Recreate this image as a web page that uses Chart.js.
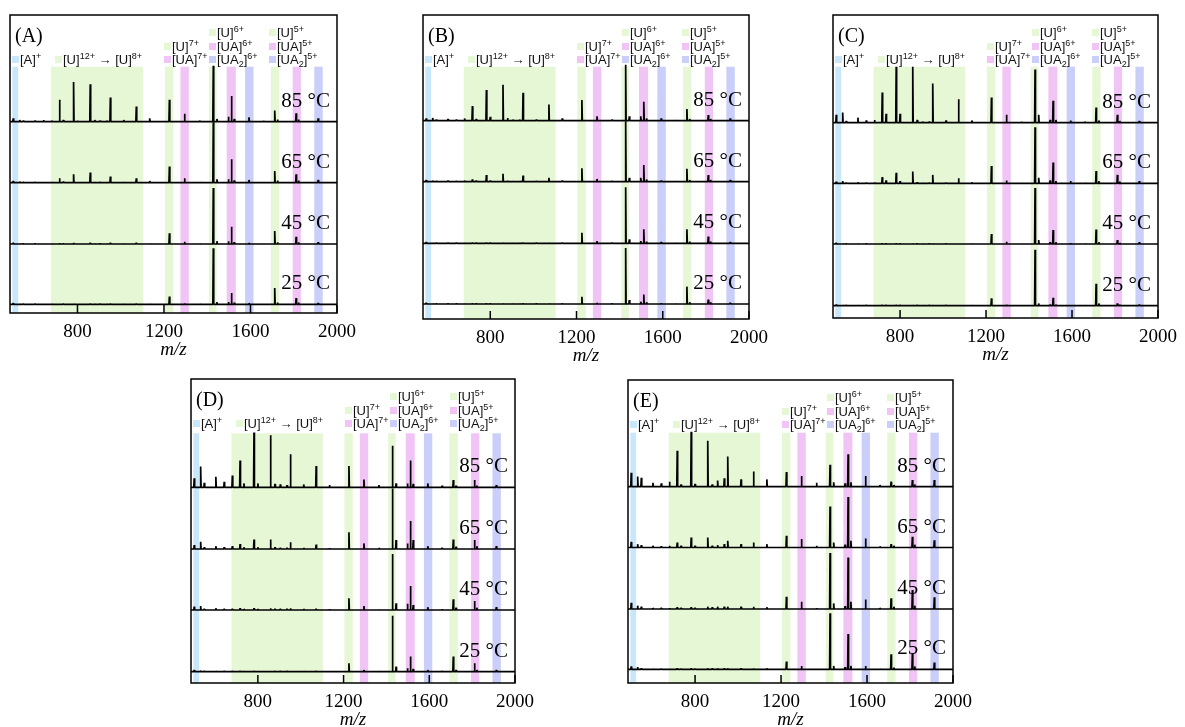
<!DOCTYPE html>
<html>
<head>
<meta charset="utf-8">
<title>Native MS of U/A complexes vs temperature</title>
<script src="https://cdn.jsdelivr.net/npm/chart.js"></script>
<style>
  body { margin: 0; background: #fff; width: 1185px; height: 727px; position: relative; overflow: hidden;
         font-family: 'Liberation Sans', Arial, sans-serif; color: #000; }
  .panel { position: absolute; }
  .panel canvas { position: absolute; left: 0; top: 0; }
  .tag { position: absolute; font: 20px 'Liberation Serif', serif; line-height: 1; }
  .temp { position: absolute; font: 21px 'Liberation Serif', serif; line-height: 1; text-align: right; white-space: nowrap; }
  .leg { position: absolute; font-size: 13px; line-height: 1; white-space: nowrap; color: #111; }
  .leg sup { font-size: 9px; position: relative; top: -5px; vertical-align: baseline; line-height: 0; }
  .leg sub { font-size: 9px; position: relative; top: 3px; vertical-align: baseline; line-height: 0; }
  .sq { position: absolute; width: 7px; height: 7px; }
</style>
</head>
<body>
<script>
  // peak positions (m/z) shared by all spectra
  const mz = [503, 533, 550, 604, 643, 681, 717, 735, 782, 800, 859, 880, 905, 936, 952, 1014, 1072, 1134,
              1225, 1295, 1365, 1428, 1445, 1498, 1512, 1525, 1593, 1660, 1712, 1725, 1811, 1822, 1913];
  const tickValues = [800, 1200, 1600, 2000];
  const temps = ['85 °C', '65 °C', '45 °C', '25 °C'];

  // relative intensities (% of the base peak), one array per panel and temperature
  const A85 = [6, 3, 2, 2, 3, 2, 39, 3, 71, 2, 67, 3, 2, 2, 43, 3, 27, 6, 39, 14, 2, 100, 5, 9, 46, 5, 8, 2, 20, 4, 15, 4, 6];
  const A65 = [3, 2, 1, 1, 1, 1, 8, 2, 15, 1, 18, 1, 1, 1, 11, 1, 8, 3, 29, 8, 1, 108, 6, 6, 42, 4, 5, 1, 21, 4, 15, 4, 5];
  const A45 = [2, 1, 1, 1, 1, 1, 2, 1, 2, 1, 2, 1, 1, 1, 2, 1, 2, 1, 19, 4, 1, 100, 5, 5, 31, 3, 2, 1, 23, 3, 13, 3, 3];
  const A25 = [2, 1, 1, 1, 1, 1, 1, 1, 1, 1, 1, 1, 1, 1, 1, 1, 1, 1, 14, 2, 1, 100, 4, 4, 20, 3, 2, 1, 29, 3, 11, 3, 2];
  const B85 = [4, 5, 2, 3, 2, 4, 26, 3, 55, 7, 64, 5, 2, 2, 50, 2, 29, 4, 37, 8, 2, 100, 8, 8, 34, 4, 4, 1, 21, 3, 10, 3, 4];
  const B65 = [3, 2, 1, 2, 1, 2, 4, 2, 12, 2, 14, 2, 1, 1, 11, 1, 7, 2, 24, 5, 1, 108, 7, 7, 30, 4, 2, 1, 23, 3, 12, 3, 3];
  const B45 = [2, 1, 1, 1, 1, 1, 1, 1, 1, 1, 1, 1, 1, 1, 1, 1, 1, 1, 19, 4, 1, 100, 7, 4, 25, 3, 2, 1, 25, 3, 12, 3, 2];
  const B25 = [2, 1, 1, 1, 1, 1, 1, 1, 1, 1, 1, 1, 1, 1, 1, 1, 1, 1, 13, 2, 1, 100, 7, 4, 17, 3, 1, 1, 31, 3, 8, 3, 2];
  const C85 = [14, 18, 3, 9, 4, 5, 54, 16, 100, 16, 100, 5, 2, 2, 70, 4, 42, 4, 45, 14, 2, 95, 14, 5, 39, 5, 4, 2, 27, 4, 14, 3, 3];
  const C65 = [3, 4, 1, 2, 1, 2, 11, 5, 19, 4, 21, 2, 1, 1, 15, 1, 9, 2, 31, 5, 1, 100, 10, 5, 37, 4, 4, 1, 22, 4, 15, 3, 4];
  const C45 = [2, 1, 1, 1, 1, 1, 1, 1, 1, 1, 1, 1, 1, 1, 1, 1, 1, 1, 18, 4, 1, 100, 7, 3, 25, 3, 2, 1, 26, 3, 7, 2, 3];
  const C25 = [2, 1, 1, 1, 1, 1, 1, 1, 1, 1, 1, 1, 1, 1, 1, 1, 1, 1, 13, 2, 1, 100, 4, 2, 14, 2, 1, 1, 39, 4, 4, 2, 2];
  const D85 = [16, 37, 8, 19, 10, 21, 48, 7, 98, 7, 93, 6, 5, 4, 59, 5, 38, 4, 38, 14, 4, 74, 7, 7, 48, 6, 7, 3, 13, 3, 13, 3, 4];
  const D65 = [7, 13, 3, 5, 3, 5, 9, 3, 17, 3, 17, 3, 2, 2, 12, 2, 8, 2, 30, 10, 2, 108, 16, 10, 50, 16, 5, 2, 17, 4, 16, 5, 5];
  const D45 = [6, 7, 2, 3, 2, 2, 3, 2, 3, 2, 3, 2, 2, 2, 3, 2, 2, 2, 21, 7, 1, 100, 12, 11, 43, 9, 5, 1, 19, 4, 16, 4, 5];
  const D25 = [3, 2, 1, 1, 1, 1, 1, 1, 1, 1, 1, 1, 1, 1, 1, 1, 1, 1, 15, 3, 1, 100, 9, 6, 27, 5, 3, 1, 27, 3, 15, 3, 3];
  const E85 = [25, 18, 16, 7, 6, 9, 64, 4, 98, 5, 82, 4, 11, 15, 54, 13, 27, 13, 26, 19, 7, 39, 8, 6, 58, 8, 19, 3, 9, 3, 12, 4, 12];
  const E65 = [10, 6, 4, 3, 2, 3, 9, 3, 18, 3, 18, 3, 4, 6, 12, 6, 9, 6, 21, 15, 3, 73, 9, 5, 90, 12, 16, 2, 6, 3, 19, 5, 13];
  const E45 = [11, 6, 4, 2, 2, 2, 3, 2, 3, 2, 4, 3, 4, 4, 4, 4, 4, 3, 22, 13, 2, 100, 10, 5, 92, 13, 17, 2, 19, 4, 34, 6, 21];
  const E25 = [5, 4, 2, 1, 1, 1, 2, 1, 2, 1, 2, 2, 2, 2, 2, 2, 2, 2, 14, 6, 1, 100, 6, 4, 63, 6, 6, 1, 27, 3, 29, 5, 12];

  // highlighted m/z windows
  const bandLo = [499, 677, 1204, 1276, 1408, 1490, 1575, 1694, 1795, 1895];
  const bandHi = [526, 1103, 1243, 1315, 1443, 1532, 1614, 1733, 1833, 1934];
  const bandKind = ['a', 'u', 'u', 'ua', 'u', 'ua', 'ua2', 'u', 'ua', 'ua2'];
  const kindColor = { a: '#c8e7fb', u: '#e6f7d6', ua: '#f1c4f6', ua2: '#cacff9' };

  const legendItems = [
    { html: '[A]<sup>+</sup>', kind: 'a', x: 2, row: 2 },
    { html: '[U]<sup>12+</sup> → [U]<sup>8+</sup>', kind: 'u', x: 45, row: 2 },
    { html: '[U]<sup>7+</sup>', kind: 'u', x: 154, row: 1 },
    { html: '[UA]<sup>7+</sup>', kind: 'ua', x: 154, row: 2 },
    { html: '[U]<sup>6+</sup>', kind: 'u', x: 199, row: 0 },
    { html: '[UA]<sup>6+</sup>', kind: 'ua', x: 199, row: 1 },
    { html: '[UA<sub>2</sub>]<sup>6+</sup>', kind: 'ua2', x: 199, row: 2 },
    { html: '[U]<sup>5+</sup>', kind: 'u', x: 259, row: 0 },
    { html: '[UA]<sup>5+</sup>', kind: 'ua', x: 259, row: 1 },
    { html: '[UA<sub>2</sub>]<sup>5+</sup>', kind: 'ua2', x: 259, row: 2 }
  ];
  const rowY = [17, 31, 44.5];

  const panels = [
    { tag: '(A)', left: 10, right: 337, top: 15, bottom: 313, base: [121.7, 182.7, 244, 304.3], bandTop: 66.7, traces: [A85, A65, A45, A25] },
    { tag: '(B)', left: 423, right: 749, top: 15, bottom: 319, base: [120.7, 181.7, 243.3, 304], bandTop: 66.7, traces: [B85, B65, B45, B25] },
    { tag: '(C)', left: 833, right: 1158, top: 15, bottom: 318, base: [122.7, 183.3, 244, 305.7], bandTop: 66.7, traces: [C85, C65, C45, C25] },
    { tag: '(D)', left: 191, right: 515, top: 379, bottom: 683, base: [487.3, 549, 610, 671.7], bandTop: 433.3, traces: [D85, D65, D45, D25] },
    { tag: '(E)', left: 628, right: 953, top: 380, bottom: 683, base: [486.7, 547.5, 609, 669.3], bandTop: 432.7, traces: [E85, E65, E45, E25] }
  ];

  const X_MIN = 488, X_MAX = 2000;
  const PX_PER_PCT = 0.56;   // 100 % peak = 56 px
  const PADX = 30, PADY = 4, AXIS_H = 48;

  function traceData(inten, y0) {
    const pts = [{ x: X_MIN, y: y0 }];
    mz.forEach((m, i) => {
      pts.push({ x: m - 2, y: y0 }, { x: m, y: y0 + inten[i] * PX_PER_PCT }, { x: m + 2, y: y0 });
    });
    pts.push({ x: X_MAX, y: y0 });
    return pts;
  }

  const bandPlugin = {
    id: 'bands',
    beforeDatasetsDraw(chart, args, opts) {
      const { ctx, chartArea: a, scales: { x, y } } = chart;
      const yTop = y.getPixelForValue(opts.top);
      ctx.save();
      bandLo.forEach((lo, i) => {
        const x0 = x.getPixelForValue(lo), x1 = x.getPixelForValue(bandHi[i]);
        ctx.fillStyle = kindColor[bandKind[i]];
        ctx.fillRect(x0, yTop, x1 - x0, a.bottom - yTop);
      });
      ctx.restore();
    }
  };

  const framePlugin = {
    id: 'frame',
    afterDraw(chart) {
      const { ctx, chartArea: a, scales: { x } } = chart;
      ctx.save();
      ctx.strokeStyle = '#000';
      ctx.lineWidth = 1.5;
      ctx.strokeRect(a.left, a.top, a.right - a.left, a.bottom - a.top);
      ctx.beginPath();
      x.ticks.forEach(t => {
        const px = x.getPixelForValue(t.value);
        ctx.moveTo(px, a.bottom);
        ctx.lineTo(px, a.bottom - 8);
      });
      ctx.stroke();
      ctx.restore();
    }
  };

  panels.forEach(p => {
    const w = p.right - p.left, h = p.bottom - p.top;
    const div = document.createElement('div');
    div.className = 'panel';
    div.style.left = (p.left - PADX) + 'px';
    div.style.top = (p.top - PADY) + 'px';
    document.body.appendChild(div);

    const canvas = document.createElement('canvas');
    canvas.width = w + 2 * PADX;
    canvas.height = h + PADY + AXIS_H;
    canvas.style.width = canvas.width + 'px';
    canvas.style.height = canvas.height + 'px';
    div.appendChild(canvas);

    new Chart(canvas, {
      type: 'line',
      data: {
        datasets: p.traces.map((tr, k) => ({
          label: temps[k],
          data: traceData(tr, p.bottom - p.base[k]),
          borderColor: '#000',
          borderWidth: 1.7,
          borderJoinStyle: 'bevel',
          pointRadius: 0,
          tension: 0,
          fill: false
        }))
      },
      options: {
        responsive: false,
        animation: false,
        events: [],
        layout: { padding: { left: PADX, right: PADX, top: PADY, bottom: 0 } },
        plugins: {
          legend: { display: false },
          tooltip: { enabled: false },
          bands: { top: p.bottom - p.bandTop }
        },
        scales: {
          x: {
            type: 'linear',
            min: X_MIN,
            max: X_MAX,
            afterBuildTicks: s => { s.ticks = tickValues.map(v => ({ value: v })); },
            afterFit: s => { s.height = AXIS_H; },
            grid: { display: false, drawTicks: false },
            border: { display: false },
            ticks: {
              autoSkip: false, maxRotation: 0, padding: 8, color: '#000',
              font: { family: 'Liberation Serif', size: 19 },
              callback: v => String(v)
            },
            title: {
              display: true, text: 'm/z', color: '#000', padding: 0,
              font: { family: 'Liberation Serif', size: 19, style: 'italic' }
            }
          },
          y: { display: false, min: 0, max: h }
        }
      },
      plugins: [bandPlugin, framePlugin]
    });

    const ox = PADX, oy = PADY;
    const tag = document.createElement('div');
    tag.className = 'tag';
    tag.textContent = p.tag;
    tag.style.left = (ox + 5) + 'px';
    tag.style.top = (oy + 10) + 'px';
    div.appendChild(tag);

    legendItems.forEach(it => {
      const sq = document.createElement('div');
      sq.className = 'sq';
      sq.style.background = kindColor[it.kind];
      sq.style.left = (ox + it.x) + 'px';
      sq.style.top = (oy + rowY[it.row] - 3.5) + 'px';
      div.appendChild(sq);
      const lab = document.createElement('div');
      lab.className = 'leg';
      lab.innerHTML = it.html;
      lab.style.left = (ox + it.x + 8) + 'px';
      lab.style.top = (oy + rowY[it.row] - 6.5) + 'px';
      div.appendChild(lab);
    });

    temps.forEach((t, k) => {
      const el = document.createElement('div');
      el.className = 'temp';
      el.textContent = t;
      el.style.left = ox + 'px';
      el.style.width = (w - 7) + 'px';
      el.style.top = (oy + (p.base[k] - p.top) - 21.5 - 10.5) + 'px';
      div.appendChild(el);
    });
  });
</script>
</body>
</html>
